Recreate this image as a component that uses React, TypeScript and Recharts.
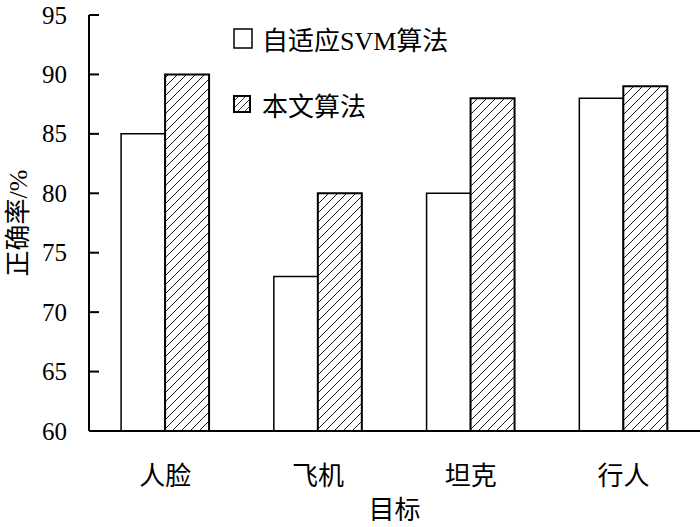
import React from "react";
import { BarChart, Bar, XAxis, YAxis } from "recharts";

const categories = ["人脸", "飞机", "坦克", "行人"];
const svmValues = [85, 73, 80, 88];
const oursValues = [90, 80, 88, 89];
const yTicks = [60, 65, 70, 75, 80, 85, 90, 95];
const seriesNames = ["自适应SVM算法", "本文算法"];

const data = categories.map((name, i) => ({
  name,
  svm: svmValues[i],
  ours: oursValues[i],
}));

const FONT = "'Liberation Serif', 'Times New Roman', 'Noto Sans CJK SC', serif";

function YTick(props: any) {
  const { x, y, payload } = props;
  return (
    <g>
      <line x1={x} x2={x + 10} y1={y} y2={y} stroke="#000" strokeWidth={2} />
      <text x={x - 22} y={y} textAnchor="end" dominantBaseline="central" fontSize={25} style={{ fontFamily: FONT }} fill="#000">
        {payload.value}
      </text>
    </g>
  );
}

function YLabel(props: any) {
  const { viewBox } = props;
  const cx = viewBox.x + 18;
  const cy = viewBox.y + viewBox.height / 2;
  return (
    <text
      x={cx}
      y={cy}
      transform={`rotate(-90, ${cx}, ${cy})`}
      textAnchor="middle"
      dominantBaseline="central"
      fontSize={26}
      style={{ fontFamily: FONT }}
      fill="#000"
    >
      正确率/%
    </text>
  );
}

function HatchBox({ size, id }: { size: number; id: string }) {
  return (
    <svg width={size} height={size}>
      <defs>
        <pattern id={id} patternUnits="userSpaceOnUse" width={7} height={7}>
          <line x1={0} y1={7} x2={7} y2={0} stroke="#000" strokeWidth={0.8} />
        </pattern>
      </defs>
      <rect x={1} y={1} width={size - 2} height={size - 2} fill={`url(#${id})`} stroke="#000" strokeWidth={2} />
    </svg>
  );
}

function ChartLegend() {
  const rowStyle: React.CSSProperties = {
    display: "flex",
    alignItems: "center",
    height: 30,
    fontSize: 26,
    fontFamily: FONT,
    color: "#000",
    whiteSpace: "nowrap",
  };
  return (
    <div style={{ position: "absolute", top: 23, left: 233 }}>
      <div style={rowStyle}>
        <svg width={20} height={21}>
          <rect x={1} y={1} width={18} height={19} fill="#fff" stroke="#000" strokeWidth={1.5} />
        </svg>
        <span style={{ marginLeft: 9 }}>{seriesNames[0]}</span>
      </div>
      <div style={{ ...rowStyle, marginTop: 36 }}>
        <HatchBox size={18} id="legendHatch" />
        <span style={{ marginLeft: 11 }}>{seriesNames[1]}</span>
      </div>
    </div>
  );
}

export default function App() {
  return (
    <div style={{ position: "absolute", left: 0, top: 0, width: 700, height: 527, background: "#fff" }}>
      <BarChart
        width={700}
        height={527}
        data={data}
        margin={{ top: 15, right: 0, bottom: 0, left: 0 }}
        barCategoryGap="21%"
        barGap={0}
      >
        <defs>
          <pattern id="hatch" patternUnits="userSpaceOnUse" width={9} height={9}>
            <rect width={9} height={9} fill="#fff" />
            <line x1={-1} y1={10} x2={10} y2={-1} stroke="#000" strokeWidth={0.9} />
          </pattern>
        </defs>
        <XAxis
          dataKey="name"
          height={96}
          axisLine={{ stroke: "#000", strokeWidth: 2 }}
          tickLine={false}
          tickSize={0}
          tickMargin={36}
          tick={{ fontSize: 26, fontFamily: FONT, fill: "#000" }}
          label={{ value: "目标", position: "insideBottom", offset: 8, fontSize: 26, fontFamily: FONT, fill: "#000" }}
        />
        <YAxis
          width={89}
          domain={[60, 95]}
          ticks={yTicks}
          allowDataOverflow
          axisLine={{ stroke: "#000", strokeWidth: 2 }}
          tickLine={false}
          tickSize={0}
          tickMargin={0}
          tick={<YTick />}
          label={<YLabel />}
        />
        <Bar dataKey="svm" name={seriesNames[0]} fill="#fff" stroke="#000" strokeWidth={1.5} isAnimationActive={false} />
        <Bar dataKey="ours" name={seriesNames[1]} fill="url(#hatch)" stroke="#000" strokeWidth={2} isAnimationActive={false} />
      </BarChart>
      <ChartLegend />
    </div>
  );
}
